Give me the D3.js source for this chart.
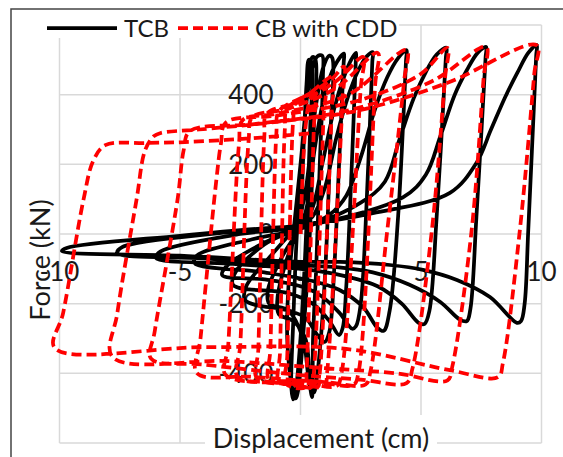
<!DOCTYPE html>
<html>
<head>
<meta charset="utf-8">
<script src="https://cdn.jsdelivr.net/npm/d3@7"></script>
<style>
  body { margin: 0; background: #fff; }
  svg text { font-family: Lato, "Open Sans", sans-serif; fill: #1a1a1a; }
</style>
</head>
<body>
<div id="chart"></div>
<script>
// TCB hysteresis: [displacement (cm), force (kN)]
const tcbPoints = [
  // +/-0.4
  [0, 0], [0.1, 200], [0.25, 430], [0.35, 500], [0.45, 495], [0.4, 300], [0.2, -50], [0.0, -300],
  [-0.2, -450], [-0.3, -475], [-0.38, -440], [-0.3, -250], [-0.15, 0],
  // +/-0.6
  [0.1, 250], [0.35, 460], [0.5, 508], [0.62, 500], [0.55, 300], [0.35, -50], [0.1, -300],
  [-0.1, -450], [-0.2, -472], [-0.35, -440], [-0.55, -300], [-0.5, -150], [-0.3, 0],
  // +/-0.9
  [0.0, 200], [0.4, 450], [0.7, 510], [0.9, 512], [0.93, 450], [0.8, 200], [0.65, -100], [0.52, -300],
  [0.5, -440], [0.48, -468], [0.4, -440], [0.2, -300], [-0.3, -250], [-0.9, -230], [-0.95, -180],
  [-0.6, -80], [-0.2, 0],
  // +/-1.3
  [0.2, 120], [0.6, 350], [0.95, 480], [1.2, 512], [1.32, 505], [1.25, 300], [1.1, 0], [0.9, -250],
  [0.7, -400], [0.55, -455], [0.4, -440], [0.1, -300], [-0.5, -220], [-1.3, -200], [-1.35, -160],
  [-0.8, -70], [-0.2, 0],
  // +/-1.8
  [0.2, 60], [0.6, 250], [1.0, 400], [1.4, 480], [1.8, 518], [1.79, 490], [1.6, 200], [1.4, -100],
  [1.2, -280], [1.0, -310], [0.7, -290], [0.2, -240], [-0.5, -220], [-2.3, -190], [-2.25, -150],
  [-1.2, -60], [-0.3, 10],
  // +/-2.3
  [0.4, 60], [0.9, 200], [1.4, 360], [1.8, 450], [2.1, 500], [2.3, 520], [2.29, 490], [2.1, 150],
  [1.9, -150], [1.75, -270], [1.6, -290], [1.2, -250], [0.5, -200], [-0.5, -170], [-2.8, -146],
  [-2.7, -110], [-1.5, -30], [-0.2, 15],
  // +/-3.0
  [0.5, 50], [1.0, 130], [1.5, 280], [2.0, 400], [2.4, 470], [2.75, 510], [3.0, 522], [2.98, 495],
  [2.75, 100], [2.5, -200], [2.3, -265], [2.15, -272], [1.6, -225], [0.8, -175], [0, -150],
  [-1.5, -130], [-3.25, -118], [-3.1, -95], [-1.5, -25], [0, 15],
  // +/-4.4
  [1.2, 55], [1.9, 110], [2.5, 220], [3.1, 360], [3.6, 450], [4.05, 505], [4.4, 528], [4.38, 500],
  [4.05, 50], [3.7, -220], [3.45, -278], [3.2, -270], [2.6, -210], [1.6, -160], [0.5, -135],
  [-1.5, -110], [-4.4, -83], [-4.3, -62], [-2, -15], [0, 15],
  // +/-6.0
  [2.5, 90], [3.5, 150], [4.1, 270], [4.7, 390], [5.2, 465], [5.65, 515], [6.05, 535], [6.03, 505],
  [5.65, 50], [5.35, -220], [5.15, -258], [4.9, -255], [4.2, -200], [3.2, -150], [1.8, -120],
  [0, -100], [-3, -85], [-6.0, -69], [-5.8, -50], [-2.5, 0], [0, 20],
  // +/-7.6
  [4.25, 105], [5.2, 170], [5.8, 280], [6.4, 400], [6.9, 470], [7.35, 520], [7.7, 537], [7.68, 507],
  [7.3, 50], [7.05, -215], [6.9, -250], [6.6, -245], [5.8, -195], [4.5, -145], [3, -110], [1.5, -95],
  [0, -90], [-4, -70], [-7.6, -55], [-7.4, -38], [-3, 5], [0, 25],
  // +/-9.8
  [3, 60], [6.2, 118], [7.3, 204], [7.9, 299], [8.5, 394], [9.0, 463], [9.45, 520], [9.8, 543],
  [9.78, 512], [9.45, 10], [9.3, -200], [9.15, -250], [8.98, -255], [7.86, -181], [6.49, -132],
  [5.08, -103], [3.71, -89], [1.64, -80], [0, -80], [-5, -62], [-9.9, -49], [-9.7, -40],
  [-5, -5], [-1.4, 17], [0, 22]
];

// CB with CDD hysteresis
const cddPoints = [
  [0, 0], [0.2, 300], [0.4, 385], [0.6, 400],
  [0.55, 300], [0.25, -400], [0.2, -440],
  [-0.6, -430],
  [-0.55, -350], [-0.3, 330], [-0.2, 375],
  [0.5, 405], [1.0, 422],
  [0.95, 330], [0.55, -400], [0.45, -440],
  [-0.4, -432], [-0.9, -425],
  [-0.85, -340], [-0.65, 300], [-0.55, 360],
  [0.4, 405], [1.35, 451],
  [1.3, 360], [0.8, -400], [0.7, -440],
  [-0.5, -428], [-1.3, -420],
  [-1.25, -330], [-1.0, 290], [-0.9, 352],
  [0.3, 400], [1.3, 445], [1.8, 480],
  [1.75, 390], [1.1, -400], [1.0, -438],
  [0, -430], [-1.8, -415],
  [-1.75, -330], [-1.5, 280], [-1.4, 345],
  [0, 380], [1.5, 440], [2.6, 508],
  [2.5, 420], [1.7, -400], [1.5, -436],
  [0, -425], [-2.6, -410],
  [-2.5, -320], [-2.15, 270], [-2.0, 335],
  [-0.5, 360], [1.5, 420], [3.2, 520],
  [3.1, 430], [2.4, -400], [2.2, -433],
  [0.5, -422], [-3.1, -405],
  [-3.0, -320], [-2.55, 260], [-2.4, 327],
  [-1, 345], [2, 400], [4.4, 528],
  [4.3, 440], [3.6, 10], [2.9, -395], [2.7, -432],
  [1, -425], [-2, -410], [-4.3, -399],
  [-4.15, -300], [-3.5, 150], [-3.3, 260], [-3.1, 320],
  [-1, 340], [2.5, 385], [5, 460], [6.1, 534],
  [6.0, 450], [5.45, 10], [4.65, -385], [4.4, -428],
  [2.5, -418], [0, -405], [-4, -375], [-6.2, -358],
  [-6.05, -280], [-5.1, 100], [-4.85, 240], [-4.6, 295],
  [-2, 315], [2, 355], [5.5, 440], [7.7, 537],
  [7.6, 450], [7.1, 10], [6.3, -380], [6.1, -420],
  [4, -400], [1, -385], [-3, -365], [-7.8, -353],
  [-7.6, -227], [-6.8, 100], [-6.45, 240], [-6.1, 280], [-5.8, 290],
  [-4.2, 300], [-1, 322], [2.5, 356], [6.1, 434], [9.8, 542],
  [9.7, 460], [9.1, 10], [8.4, -370], [8.2, -411],
  [6.2, -391], [1.9, -330], [-4, -325], [-10.2, -327],
  [-9.85, -227], [-9.0, 100], [-8.6, 210], [-8.1, 255],
  [-6.4, 261], [-4.8, 264], [-2, 275], [0.5, 290]
];

const xTicks = [-10, -5, 0, 5, 10];
const yTicks = [-600, -400, -200, 0, 200, 400, 600];
const yLabelTicks = [-400, -200, 0, 200, 400];
const seriesNames = ["TCB", "CB with CDD"];

const width = 563, height = 457;

const svg = d3.select("#chart").append("svg")
  .attr("width", width)
  .attr("height", height);

// chart frame
svg.append("rect")
  .attr("x", 11).attr("y", 9)
  .attr("width", 600).attr("height", 600)
  .attr("fill", "#fff")
  .attr("stroke", "#444")
  .attr("stroke-width", 1.5);

const x = d3.scaleLinear().domain([-10, 10]).range([59.5, 541.5]);
const y = d3.scaleLinear().domain([-600, 600]).range([443, 25]);

// gridlines
svg.append("g").selectAll("line")
  .data(xTicks).enter().append("line")
  .attr("x1", d => x(d)).attr("x2", d => x(d))
  .attr("y1", y(600)).attr("y2", y(-600))
  .attr("stroke", "#d9d9d9").attr("stroke-width", 1.5);

svg.append("g").selectAll("line")
  .data(yTicks).enter().append("line")
  .attr("x1", x(-10)).attr("x2", x(10))
  .attr("y1", d => y(d)).attr("y2", d => y(d))
  .attr("stroke", "#d9d9d9").attr("stroke-width", 1.5);

// tick labels sit next to the axes crossing at zero
svg.append("g").selectAll("text")
  .data(yLabelTicks).enter().append("text")
  .attr("x", x(0) - 27)
  .attr("y", d => y(d))
  .attr("dy", "0.36em")
  .attr("text-anchor", "end")
  .style("font-size", "26px")
  .text(d => d);

svg.append("g").selectAll("text")
  .data(xTicks).enter().append("text")
  .attr("x", d => x(d))
  .attr("y", y(0) + 47)
  .attr("text-anchor", "middle")
  .style("font-size", "26px")
  .text(d => d);

const line = d3.line()
  .x(d => x(d[0]))
  .y(d => y(d[1]))
  .curve(d3.curveCatmullRom.alpha(0.5));

svg.append("path")
  .datum(tcbPoints)
  .attr("d", line)
  .attr("fill", "none")
  .attr("stroke", "#000")
  .attr("stroke-width", 3.75)
  .attr("stroke-linejoin", "round");

svg.append("path")
  .datum(cddPoints)
  .attr("d", line)
  .attr("fill", "none")
  .attr("stroke", "#ff0000")
  .attr("stroke-width", 3.75)
  .attr("stroke-dasharray", "10,5")
  .attr("stroke-linejoin", "round");

// legend
const legend = svg.append("g");
legend.append("rect")
  .attr("x", 40).attr("y", 11)
  .attr("width", 359).attr("height", 27)
  .attr("fill", "#fff");
legend.append("line")
  .attr("x1", 47).attr("x2", 117).attr("y1", 28).attr("y2", 28)
  .attr("stroke", "#000").attr("stroke-width", 3.75);
legend.append("text")
  .attr("x", 124).attr("y", 37)
  .style("font-size", "24px")
  .text(seriesNames[0]);
legend.append("line")
  .attr("x1", 178).attr("x2", 248).attr("y1", 28).attr("y2", 28)
  .attr("stroke", "#ff0000").attr("stroke-width", 3.75)
  .attr("stroke-dasharray", "10,5");
legend.append("text")
  .attr("x", 255).attr("y", 37)
  .style("font-size", "24px")
  .text(seriesNames[1]);

// axis titles
svg.append("rect")
  .attr("x", 205).attr("y", 415)
  .attr("width", 232).attr("height", 50)
  .attr("fill", "#fff");
svg.append("text")
  .attr("x", 321).attr("y", 448)
  .attr("text-anchor", "middle")
  .style("font-size", "27px")
  .text("Displacement (cm)");

svg.append("text")
  .attr("transform", "translate(50,260) rotate(-90)")
  .attr("text-anchor", "middle")
  .style("font-size", "27px")
  .text("Force (kN)");
</script>
</body>
</html>
